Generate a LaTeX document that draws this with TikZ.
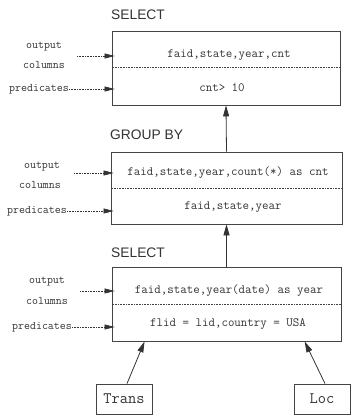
\documentclass[tikz,border=0pt]{standalone}
\usepackage{fontspec}
\setmainfont{Liberation Serif}
\newfontfamily\headf{Liberation Sans}
\usetikzlibrary{arrows.meta,calc}
\definecolor{ink}{HTML}{333333}
\definecolor{edge}{HTML}{444444}
\tikzset{
  opbox/.style={draw=edge, line width=0.8pt, rectangle, inner sep=0pt},
  rowtext/.style={font=\ttfamily\fontsize{12.6}{14}\selectfont, text=ink, inner sep=0pt},
  labtext/.style={font=\ttfamily\fontsize{11.6}{13}\selectfont, text=ink, inner sep=0pt},
  headtext/.style={font=\headf\fontsize{13.8}{16}\selectfont, text=ink, inner sep=0pt, anchor=west},
  divider/.style={draw=edge, line width=0.6pt, dash pattern=on 0.8pt off 0.8pt},
  labarrow/.style={draw=ink, line width=0.6pt, dash pattern=on 0.8pt off 0.8pt, -{Triangle[length=10pt,width=5pt]}, shorten >=-3pt},
  uparrow/.style={draw=ink, line width=0.8pt, -{Triangle[length=11pt,width=6pt]}},
  tablebox/.style={draw=edge, line width=0.8pt, minimum width=56pt, minimum height=30pt, inner sep=0pt, font=\ttfamily\fontsize{16}{18}\selectfont, text=ink}
}
\begin{document}
\begin{tikzpicture}[x=1pt,y=-1pt]
\useasboundingbox (0,0) rectangle (354,415);
% ---- top SELECT
\node[headtext] (h1) at (111,14.5) {SELECT};
\node[opbox, minimum width=228pt, minimum height=74pt] (box1) at (226,68) {};
\draw[divider] (box1.west |- 0,67) -- (box1.east |- 0,67);
\node[rowtext] (r11) at (229,55) {faid,state,year,cnt};
\node[rowtext] (r12) at (222,88) {cnt> 10};
\node[labtext] (o1) at (44,47) {output};
\node[labtext] (c1) at (44,65) {columns};
\node[labtext] (p1) at (39,89) {predicates};
\coordinate (oa1) at (77,56);
\draw[labarrow] (oa1) -- (oa1 -| box1.west);
\draw[labarrow] (p1.east) -- (p1.east -| box1.west);
% ---- GROUP BY
\node[headtext] (h2) at (110,135) {GROUP BY};
\node[opbox, minimum width=231pt, minimum height=72pt] (box2) at (226.5,188) {};
\draw[divider] (box2.west |- 0,188) -- (box2.east |- 0,188);
\node[rowtext] (r21) at (228,173) {faid,state,year,count(*) as cnt};
\node[rowtext] (r22) at (233,207) {faid,state,year};
\node[labtext] (o2) at (42,167) {output};
\node[labtext] (c2) at (40,185) {columns};
\node[labtext] (p2) at (37,211) {predicates};
\coordinate (oa2) at (74,173);
\draw[labarrow] (oa2) -- (oa2 -| box2.west);
\draw[labarrow] (p2.east) -- (p2.east -| box2.west);
% ---- bottom SELECT
\node[headtext] (h3) at (111,253) {SELECT};
\node[opbox, minimum width=229pt, minimum height=74pt] (box3) at (226.5,304) {};
\draw[divider] (box3.west |- 0,304) -- (box3.east |- 0,304);
\node[rowtext] (r31) at (229,291) {faid,state,year(date) as year};
\node[rowtext] (r32) at (228,324) {flid = lid,country = USA};
\node[labtext] (o3) at (47,282) {output};
\node[labtext] (c3) at (47,301) {columns};
\node[labtext] (p3) at (42,327) {predicates};
\coordinate (oa3) at (80,291);
\draw[labarrow] (oa3) -- (oa3 -| box3.west);
\draw[labarrow] (p3.east) -- (p3.east -| box3.west);
% ---- tables
\node[tablebox] (trans) at (124,399) {Trans};
\node[tablebox] (loc) at (322,399) {Loc};
% ---- flow arrows
\draw[uparrow] (box2.north) -- (box1.south);
\draw[uparrow] (box3.north) -- (box2.south);
\draw[uparrow] ($(trans.north)+(3,0)$) -- ($(box3.south west)+(33,0)$);
\draw[uparrow] ($(loc.north)+(3,0)$) -- ($(box3.south west)+(193,0)$);
\end{tikzpicture}
\end{document}
